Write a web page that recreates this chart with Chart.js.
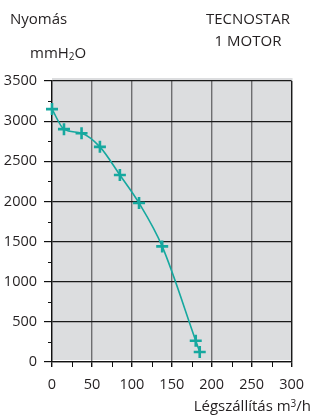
<!DOCTYPE html>
<html>
<head>
<meta charset="utf-8">
<script src="https://cdn.jsdelivr.net/npm/chart.js@4/dist/chart.umd.min.js"></script>
<style>
  html, body { margin: 0; padding: 0; background: #fff; }
  #wrap { position: relative; width: 313px; height: 416px; font-family: "Open Sans", "Noto Sans", sans-serif; color: #231f20; }
  canvas { position: absolute; left: 0; top: 0; }
  .lbl { position: absolute; font-size: 15px; line-height: 1; white-space: nowrap; }
</style>
</head>
<body>
<div id="wrap">
  <canvas id="c" width="313" height="416"></canvas>
  <div class="lbl" style="left:10px; top:11px;">Nyomás</div>
  <div class="lbl" style="left:30px; top:45px;">mmH<sub style="font-size:10px; vertical-align:-2px;">2</sub>O</div>
  <div class="lbl" style="left:205px; top:11px; width:86px; text-align:center;">TECNOSTAR<br><span style="display:inline-block; margin-top:7px;">1 MOTOR</span></div>
  <div class="lbl" style="right:2px; top:398px;">Légszállítás m<sup style="font-size:10px; vertical-align:4px;">3</sup>/h</div>
</div>
<script>
const airflow = [0, 15, 37, 60, 85, 109, 138, 180, 185];
const pressure = [3150, 2900, 2850, 2680, 2330, 1980, 1440, 265, 125];
const xTicks = [0, 50, 100, 150, 200, 250, 300];
const yTicks = [0, 500, 1000, 1500, 2000, 2500, 3000, 3500];
const xMinor = [25, 75, 125, 175, 225, 275];
const yMinor = [250, 750, 1250, 1750, 2250, 2750, 3250];

const lineColor = '#16a89f';
const tickFont = { family: '"Open Sans", "Noto Sans", sans-serif', size: 14.5 };

const bgPlugin = {
  id: 'plotBg',
  beforeDraw(chart) {
    const { ctx, chartArea: a } = chart;
    ctx.save();
    ctx.fillStyle = '#dcdddf';
    ctx.fillRect(a.left, a.top - 3, a.right - a.left + 1, a.bottom - a.top + 1);
    ctx.restore();
  },
  afterDraw(chart) {
    const { ctx } = chart;
    const xs = chart.scales.x, ys = chart.scales.y;
    ctx.save();
    ctx.strokeStyle = '#111';
    ctx.lineWidth = 1;
    ctx.beginPath();
    yMinor.forEach(v => {
      const p = Math.round(ys.getPixelForValue(v)) + 0.5;
      ctx.moveTo(xs.left - 4, p); ctx.lineTo(xs.left, p);
    });
    xMinor.forEach(v => {
      const p = Math.round(xs.getPixelForValue(v)) + 0.5;
      ctx.moveTo(p, ys.bottom); ctx.lineTo(p, ys.bottom + 5);
    });
    ctx.stroke();
    ctx.restore();
  }
};

new Chart(document.getElementById('c'), {
  type: 'line',
  data: {
    datasets: [{
      data: airflow.map((x, i) => ({ x, y: pressure[i] })),
      borderColor: lineColor,
      backgroundColor: lineColor,
      borderWidth: 1.6,
      cubicInterpolationMode: 'monotone',
      pointStyle: 'cross',
      pointRadius: 6,
      pointBorderWidth: 2.6,
      pointBorderColor: lineColor,
      pointHoverRadius: 6,
      clip: false
    }]
  },
  plugins: [bgPlugin],
  options: {
    responsive: false,
    animation: false,
    events: [],
    layout: { padding: { top: 81, right: 19, left: 0, bottom: 0 } },
    plugins: { legend: { display: false }, tooltip: { enabled: false }, title: { display: false } },
    scales: {
      x: {
        type: 'linear',
        min: 0, max: 300,
        afterBuildTicks: s => { s.ticks = xTicks.map(v => ({ value: v })); },
        afterFit: s => { s.height = 54; },
        border: { display: true, color: '#111', width: 1.3 },
        grid: {
          color: c => (c.tick && c.tick.value === 300) ? '#1a1a1a' : '#6e6e70',
          lineWidth: 1.4,
          tickColor: '#111',
          tickLength: 5
        },
        ticks: {
          color: '#231f20',
          padding: 9,
          maxRotation: 0,
          autoSkip: false,
          font: tickFont,
          callback: v => String(v)
        }
      },
      y: {
        type: 'linear',
        min: 0, max: 3500,
        afterBuildTicks: s => { s.ticks = yTicks.map(v => ({ value: v })); },
        afterFit: s => { s.width = 52; },
        border: { display: true, color: '#111', width: 1.3 },
        grid: {
          color: '#1a1a1a',
          lineWidth: 1.2,
          tickColor: '#111',
          tickLength: 8
        },
        ticks: {
          color: '#231f20',
          padding: 7,
          autoSkip: false,
          font: tickFont,
          callback: v => String(v)
        }
      }
    }
  }
});
</script>
</body>
</html>
